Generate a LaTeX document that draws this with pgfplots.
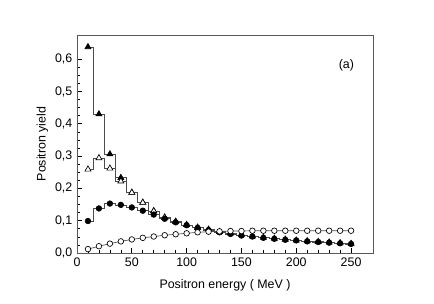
\documentclass[border=0pt]{standalone}
\usepackage{pgfplots}
\pgfplotsset{compat=1.18}
\usepackage{fontspec}
\setmainfont{Liberation Sans}
\begin{document}
\begin{tikzpicture}[x=0.75pt,y=0.75pt]
\useasboundingbox (-77,-50) rectangle (357,253);
\begin{axis}[
  at={(0,0)}, anchor=south west,
  scale only axis, width=222pt, height=163.5pt,
  xmin=0, xmax=270, ymin=0, ymax=0.675,
  xtick={0,50,...,250}, minor x tick num=4,
  ytick={0,0.1,...,0.6}, minor y tick num=3,
  tick align=inside, xtick pos=bottom, ytick pos=left,
  major tick length=4pt, minor tick length=2pt,
  axis line style={gray!70!black, line width=0.6pt},
  every tick/.style={black, line width=0.5pt},
  font=\fontsize{9.3}{11}\selectfont,
  /pgf/number format/assume math mode=true,
  yticklabel style={/pgf/number format/.cd, use comma, fixed, fixed zerofill, precision=1},
  xticklabel style={/pgf/number format/.cd, fixed},
  xlabel={Positron energy ( MeV )},
  ylabel={Positron yield},
  xlabel style={at={(rel axis cs:0.5,0)}, anchor=center, yshift=-24pt},
  ylabel style={at={(rel axis cs:0,0.5)}, anchor=center, yshift=26pt},
  every axis plot/.append style={line width=0.5pt, draw=gray!60!black},
]
% filled triangles
\addplot[const plot mark mid, mark=triangle*, mark size=2.6pt, mark options={fill=black, draw=black}] coordinates {
(10,0.638) (20,0.430) (30,0.306) (40,0.233) (50,0.187) (60,0.156) (70,0.130) (80,0.110) (90,0.097) (100,0.087) (110,0.079) (120,0.073) (130,0.066) (140,0.061) (150,0.056) (160,0.052) (170,0.048) (180,0.045) (190,0.042) (200,0.039) (210,0.037) (220,0.035) (230,0.033) (240,0.031) (250,0.029)};
% open triangles
\addplot[const plot mark mid, mark=triangle*, mark size=2.6pt, mark options={fill=white, draw=black}] coordinates {
(10,0.259) (20,0.294) (30,0.262) (40,0.222) (50,0.187) (60,0.156) (70,0.130) (80,0.110) (90,0.097) (100,0.087) (110,0.078)};
% filled circles
\addplot[const plot mark mid, mark=*, mark size=2.1pt, mark options={fill=black, draw=black}] coordinates {
(10,0.099) (20,0.138) (30,0.153) (40,0.149) (50,0.141) (60,0.131) (70,0.119) (80,0.106) (90,0.095) (100,0.086) (110,0.078) (120,0.071) (130,0.064) (140,0.059) (150,0.054) (160,0.051) (170,0.047) (180,0.044) (190,0.041) (200,0.039) (210,0.036) (220,0.034) (230,0.032) (240,0.030) (250,0.028)};
% open circles
\addplot[mark=*, mark size=2.1pt, mark options={fill=white, draw=black}] coordinates {
(10,0.012) (20,0.021) (30,0.029) (40,0.036) (50,0.042) (60,0.047) (70,0.051) (80,0.055) (90,0.058) (100,0.061) (110,0.064) (120,0.066) (130,0.067) (140,0.068) (150,0.068) (160,0.069) (170,0.069) (180,0.069) (190,0.069) (200,0.069) (210,0.069) (220,0.069) (230,0.069) (240,0.069) (250,0.069)};
\node[font=\fontsize{9.3}{11}\selectfont] at (rel axis cs:0.91,0.86) {(a)};
\end{axis}
\end{tikzpicture}
\end{document}
